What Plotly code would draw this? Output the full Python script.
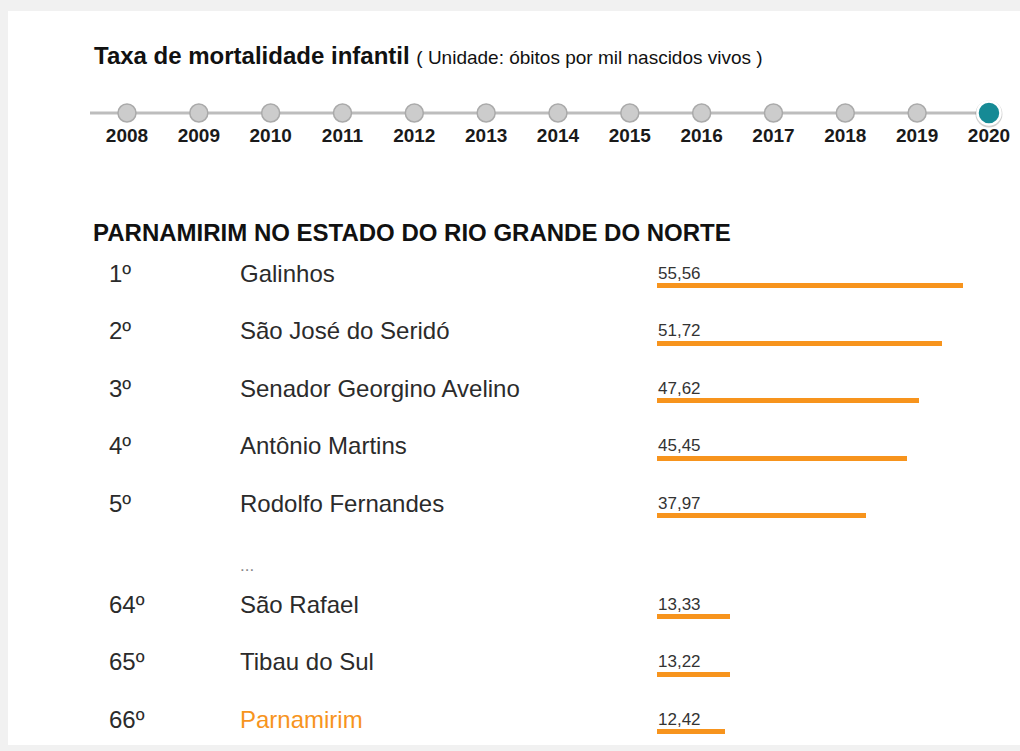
import plotly.graph_objects as go

# ---------------- data ----------------
TITLE = "Taxa de mortalidade infantil"
SUBTITLE = "( Unidade: óbitos por mil nascidos vivos )"
HEADING = "PARNAMIRIM NO ESTADO DO RIO GRANDE DO NORTE"

YEARS = [2008, 2009, 2010, 2011, 2012, 2013, 2014, 2015, 2016, 2017, 2018, 2019, 2020]
SELECTED_YEAR = 2020

RANKS = ["1º", "2º", "3º", "4º", "5º", "64º", "65º", "66º"]
NAMES = ["Galinhos", "São José do Seridó", "Senador Georgino Avelino", "Antônio Martins",
         "Rodolfo Fernandes", "São Rafael", "Tibau do Sul", "Parnamirim"]
VALUES = [55.56, 51.72, 47.62, 45.45, 37.97, 13.33, 13.22, 12.42]
HIGHLIGHT = "Parnamirim"

# ---------------- layout constants (pixels) ----------------
W, H = 1020, 751
FONT = "Liberation Sans, Arial, sans-serif"
ORANGE = "#f7941d"
TEAL = "#168a95"
BG = "#f1f1f1"

ROW0 = 273.0      # text centre of first row
STEP = 57.5       # row spacing
GAP_AFTER = 5     # rows from this index are pushed down (ellipsis)
GAP = 43.5
BAR_OFF = 12.5

def row_y(i):
    return ROW0 + i * STEP + (GAP if i >= GAP_AFTER else 0)

row_ys = [row_y(i) for i in range(len(NAMES))]
bar_ys = [y + BAR_OFF for y in row_ys]

fig = go.Figure()

# bars
fig.add_trace(go.Bar(
    x=VALUES, y=bar_ys, orientation="h", width=5,
    marker=dict(color=ORANGE, line=dict(width=0)),
    xaxis="x", yaxis="y", hoverinfo="skip", showlegend=False,
))

# value labels
for v, y in zip(VALUES, row_ys):
    fig.add_annotation(x=0, y=y, xref="x", yref="y", text=f"{v:.2f}".replace(".", ","),
                       showarrow=False, xanchor="left", yanchor="middle", borderpad=0,
                       font=dict(family=FONT, size=17, color="#333333"))

# ranks & names
for r, n, y in zip(RANKS, NAMES, row_ys):
    fig.add_annotation(x=108 / W, y=y, xref="paper", yref="y", text=r, showarrow=False,
                       xanchor="left", yanchor="middle", borderpad=0,
                       font=dict(family=FONT, size=24, color="#2b2b2b"))
    fig.add_annotation(x=239 / W, y=y, xref="paper", yref="y", text=n, showarrow=False,
                       xanchor="left", yanchor="middle", borderpad=0,
                       font=dict(family=FONT, size=24,
                                 color=ORANGE if n == HIGHLIGHT else "#2b2b2b"))

# ellipsis
fig.add_annotation(x=239 / W, y=(row_ys[GAP_AFTER - 1] + row_ys[GAP_AFTER]) / 2 + 12,
                   xref="paper", yref="y", text="...", showarrow=False,
                   xanchor="left", yanchor="middle", borderpad=0,
                   font=dict(family=FONT, size=17, color="#888888"))

# heading, title
fig.add_annotation(x=92 / W, y=232, xref="paper", yref="y", text=f"<b>{HEADING}</b>",
                   showarrow=False, xanchor="left", yanchor="middle", borderpad=0,
                   font=dict(family=FONT, size=24, color="#111111"))
fig.add_annotation(x=93 / W, y=55, xref="paper", yref="y",
                   text=f"<b>{TITLE}</b> <span style='font-size:19px'>{SUBTITLE}</span>",
                   showarrow=False, xanchor="left", yanchor="middle", borderpad=0,
                   font=dict(family=FONT, size=24, color="#111111"))

# ---------------- timeline ----------------
TL_Y = 113
YEAR_Y = 137
fig.add_trace(go.Scatter(
    x=[YEARS[0] - 0.515, YEARS[-1]], y=[TL_Y, TL_Y], mode="lines",
    line=dict(color="#bdbdbd", width=3), xaxis="x2", yaxis="y",
    hoverinfo="skip", showlegend=False))
others = [y for y in YEARS if y != SELECTED_YEAR]
fig.add_trace(go.Scatter(
    x=others, y=[TL_Y] * len(others), mode="markers",
    marker=dict(size=18, color="#cccccc", line=dict(color="#aaaaaa", width=1.5)),
    xaxis="x2", yaxis="y", hoverinfo="skip", showlegend=False))
fig.add_trace(go.Scatter(
    x=[SELECTED_YEAR], y=[TL_Y + 1], mode="markers",
    marker=dict(size=27, color="rgba(0,0,0,0.18)", line=dict(width=0)),
    xaxis="x2", yaxis="y", hoverinfo="skip", showlegend=False))
fig.add_trace(go.Scatter(
    x=[SELECTED_YEAR], y=[TL_Y], mode="markers",
    marker=dict(size=23, color=TEAL, line=dict(color="white", width=2.5)),
    xaxis="x2", yaxis="y", hoverinfo="skip", showlegend=False))
fig.add_trace(go.Scatter(
    x=YEARS, y=[YEAR_Y] * len(YEARS), mode="text", text=[f"<b>{y}</b>" for y in YEARS],
    textposition="middle center", textfont=dict(family=FONT, size=19, color="#1a1a1a"),
    xaxis="x2", yaxis="y", hoverinfo="skip", showlegend=False))

# ---------------- axes ----------------
PX_PER_UNIT = 5.51
BAR_X0 = 657
X_MAX = 60
YR_PX0, YR_STEP = 127, 71.83

fig.update_layout(
    width=W, height=H,
    margin=dict(l=0, r=0, t=0, b=0),
    paper_bgcolor=BG, plot_bgcolor="rgba(0,0,0,0)",
    xaxis=dict(domain=[BAR_X0 / W, (BAR_X0 + X_MAX * PX_PER_UNIT) / W], range=[0, X_MAX],
               visible=False, fixedrange=True),
    xaxis2=dict(domain=[0, 1], anchor="y",
                range=[YEARS[0] - YR_PX0 / YR_STEP, YEARS[0] + (W - YR_PX0) / YR_STEP],
                visible=False, fixedrange=True),
    yaxis=dict(domain=[0, 1], range=[H, 0], visible=False, fixedrange=True),
    shapes=[dict(type="rect", xref="paper", yref="y", x0=8 / W, x1=1, y0=11, y1=745,
                 fillcolor="white", line=dict(width=0), layer="below")],
    bargap=0, showlegend=False,
)

fig.write_html("out.html", config={"displayModeBar": False},
               post_script="document.body.style.margin='0';document.body.style.background='%s';" % BG)
